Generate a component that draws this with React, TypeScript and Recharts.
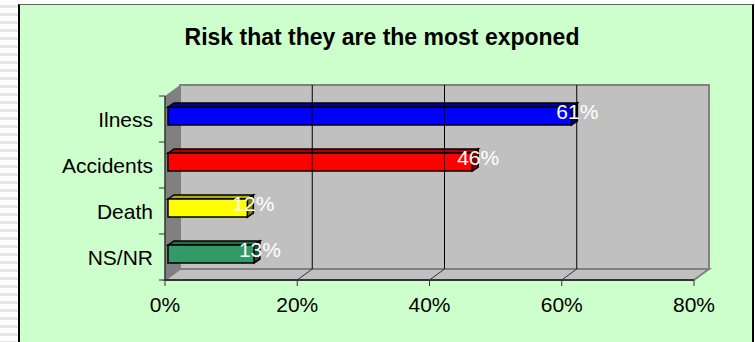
import React from "react";
import {
  BarChart,
  Bar,
  XAxis,
  YAxis,
  ReferenceArea,
  ReferenceLine,
  LabelList,
  Cell
} from "recharts";

const categories = ["Ilness", "Accidents", "Death", "NS/NR"];
const values = [61, 46, 12, 13];
const barColors = ["#0000FF", "#FF0000", "#FFFF00", "#339966"];
const topColors = ["#0000A0", "#B00000", "#B0B000", "#22704A"];
const sideColors = ["#000070", "#800000", "#808000", "#184F34"];
const xTicks = [0, 20, 40, 60, 80];
const gridValues = [20, 40, 60];

const data = categories.map((name, i) => ({ name, value: values[i] }));

// 3d look: offset of the back wall, and of the bars
const DX = 15;
const DY = 11;
const AXIS_X = 165;
const BAND = 46;
const FONT = "'Liberation Sans', Arial, sans-serif";

function Walls(props: any) {
  const { x, y, width, height } = props;
  const b = y + height;
  return (
    <g>
      <rect x={x + DX} y={y - DY} width={width} height={height} fill="#C0C0C0" stroke="#808080" strokeWidth={2} />
      <polygon
        points={`${x},${y} ${x + DX},${y - DY} ${x + DX},${b - DY} ${x},${b}`}
        fill="#808080"
      />
      <polygon
        points={`${x},${b} ${x + DX},${b - DY} ${x + width + DX},${b - DY} ${x + width},${b}`}
        fill="#C0C0C0"
        stroke="#808080"
        strokeWidth={2}
      />
    </g>
  );
}

function GridLine(props: any) {
  const { x1, y1, y2 } = props;
  const top = Math.min(y1, y2);
  const bottom = Math.max(y1, y2);
  return (
    <g>
      <line x1={x1 + DX} y1={top - DY} x2={x1 + DX} y2={bottom - DY} stroke="#000" strokeWidth={1} />
      <line x1={x1} y1={bottom} x2={x1 + DX} y2={bottom - DY} stroke="#333" strokeWidth={1} />
    </g>
  );
}

function Bar3D(props: any) {
  const { x, y, width, height, index } = props;
  const fx = x + 3;
  const fy = y - 3;
  const dx = 6;
  const dy = 4;
  return (
    <g>
      <polygon
        points={`${fx},${fy} ${fx + dx},${fy - dy} ${fx + width + dx},${fy - dy} ${fx + width},${fy}`}
        fill={topColors[index]}
        stroke="#000"
        strokeWidth={1.5}
      />
      <polygon
        points={`${fx + width},${fy} ${fx + width + dx},${fy - dy} ${fx + width + dx},${fy + height - dy} ${fx + width},${fy + height}`}
        fill={sideColors[index]}
        stroke="#000"
        strokeWidth={1.5}
      />
      <rect x={fx} y={fy} width={width} height={height} fill={barColors[index]} stroke="#000" strokeWidth={1.5} />
    </g>
  );
}

function ValueLabel(props: any) {
  const { x, y, width, height, value } = props;
  return (
    <text
      x={x + width + 9}
      y={y + height / 2 - 8}
      textAnchor="middle"
      dominantBaseline="central"
      fill="#FFFFFF"
      fontFamily={FONT}
      fontSize={21}
    >
      {value}%
    </text>
  );
}

function CategoryTick(props: any) {
  const { y, payload, index } = props;
  return (
    <g>
      <line x1={AXIS_X - 6} y1={y - BAND / 2} x2={AXIS_X} y2={y - BAND / 2} stroke="#333" />
      {index === categories.length - 1 && (
        <line x1={AXIS_X - 6} y1={y + BAND / 2} x2={AXIS_X} y2={y + BAND / 2} stroke="#333" />
      )}
      <text
        x={AXIS_X - 12}
        y={y}
        textAnchor="end"
        dominantBaseline="central"
        fill="#000"
        fontFamily={FONT}
        fontSize={21}
      >
        {payload.value}
      </text>
    </g>
  );
}

function ValueTick(props: any) {
  const { x, y, payload } = props;
  return (
    <text x={x} y={y + 24} textAnchor="middle" fill="#000" fontFamily={FONT} fontSize={21}>
      {payload.value}%
    </text>
  );
}

export default function App() {
  return (
    <div style={{ position: "absolute", left: 0, top: 0, width: 755, height: 342, overflow: "hidden", background: "#fff" }}>
      <div
        style={{
          position: "absolute",
          left: 0,
          top: 0,
          width: 18,
          height: 342,
          background: "repeating-linear-gradient(to bottom, #fff 0px, #fff 5px, #e6e6e6 5px, #e6e6e6 8px)"
        }}
      />
      <div
        style={{
          position: "absolute",
          left: 18,
          top: 4,
          width: 736,
          height: 350,
          boxSizing: "border-box",
          background: "#CCFFCC",
          borderLeft: "2px solid #000",
          borderRight: "2px solid #000",
          borderTop: "1px solid #666"
        }}
      />
      <div
        style={{
          position: "absolute",
          left: 14,
          top: 24,
          width: 736,
          textAlign: "center",
          fontFamily: FONT,
          fontWeight: "bold",
          fontSize: 23,
          color: "#000"
        }}
      >
        Risk that they are the most exponed
      </div>
      <div style={{ position: "absolute", left: 0, top: 0 }}>
        <BarChart
          width={755}
          height={342}
          data={data}
          layout="vertical"
          margin={{ top: 96, right: 61, left: 65, bottom: 22 }}
          barSize={18}
        >
          <ReferenceArea x1={0} x2={80} shape={Walls} ifOverflow="visible" />
          {gridValues.map((v) => (
            <ReferenceLine key={v} x={v} shape={GridLine} ifOverflow="visible" />
          ))}
          <XAxis
            type="number"
            domain={[0, 80]}
            ticks={xTicks}
            height={40}
            tick={ValueTick}
            tickSize={6}
            axisLine={{ stroke: "#333", strokeWidth: 2 }}
            tickLine={{ stroke: "#333" }}
          />
          <YAxis
            type="category"
            dataKey="name"
            width={100}
            tick={CategoryTick}
            tickLine={false}
            axisLine={{ stroke: "#333", strokeWidth: 1.5 }}
          />
          <Bar dataKey="value" shape={Bar3D} isAnimationActive={false}>
            {data.map((d, i) => (
              <Cell key={d.name} fill={barColors[i]} />
            ))}
            <LabelList dataKey="value" content={ValueLabel} />
          </Bar>
        </BarChart>
      </div>
    </div>
  );
}
